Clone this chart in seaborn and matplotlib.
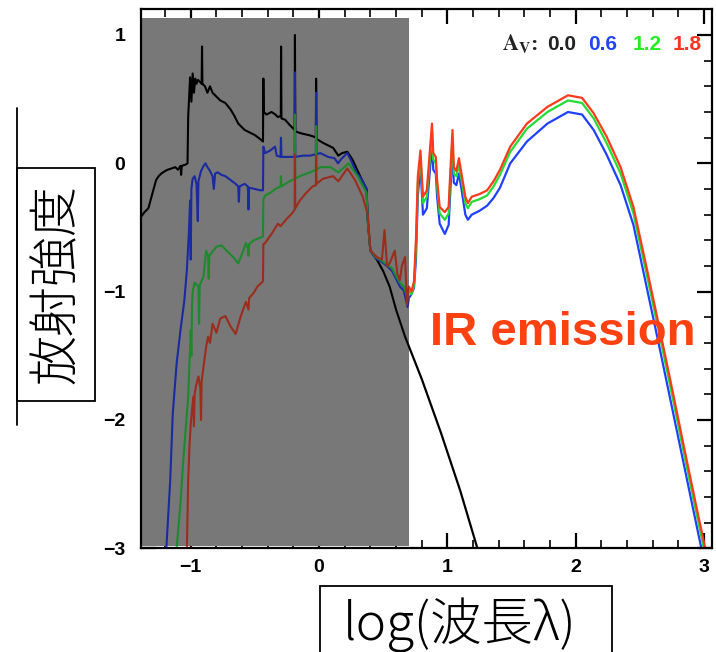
import matplotlib
matplotlib.use("Agg")
import matplotlib.pyplot as plt
import pandas as pd
import seaborn as sns
from matplotlib.patches import Rectangle
from matplotlib.lines import Line2D
from matplotlib.ticker import MultipleLocator

# ---- spectral energy distributions: (log wavelength, log flux) ----
AV00 = [(-1.39, -0.42), (-1.36, -0.38), (-1.33, -0.35), (-1.30, -0.24), (-1.27, -0.13),
        (-1.25, -0.10), (-1.23, -0.08), (-1.20, -0.06), (-1.18, -0.05), (-1.15, -0.04),
        (-1.12, -0.03), (-1.10, -0.05), (-1.08, -0.02), (-1.075, -0.09), (-1.07, -0.02),
        (-1.04, -0.01), (-1.025, 0.00), (-1.02, 0.36), (-1.005, 0.67), (-0.995, 0.48),
        (-0.985, 0.70), (-0.975, 0.55), (-0.965, 0.66), (-0.955, 0.62), (-0.943, 0.65),
        (-0.915, 0.62), (-0.912, 0.91), (-0.909, 0.62), (-0.889, 0.60), (-0.87, 0.55),
        (-0.85, 0.60), (-0.83, 0.55), (-0.80, 0.52), (-0.77, 0.49), (-0.73, 0.47),
        (-0.69, 0.42), (-0.66, 0.37), (-0.63, 0.31), (-0.60, 0.28), (-0.58, 0.26),
        (-0.54, 0.24), (-0.50, 0.22), (-0.46, 0.19), (-0.437, 0.17), (-0.434, 0.66),
        (-0.431, 0.40), (-0.41, 0.38), (-0.37, 0.40), (-0.34, 0.38), (-0.32, 0.36),
        (-0.298, 0.37), (-0.296, 0.91), (-0.293, 0.35), (-0.265, 0.34), (-0.23, 0.30),
        (-0.19, 0.26), (-0.188, 1.00), (-0.185, 0.25), (-0.16, 0.24), (-0.125, 0.23),
        (-0.08, 0.22), (-0.047, 0.21), (-0.025, 0.20), (-0.023, 0.66), (-0.020, 0.19),
        (0.03, 0.16), (0.07, 0.14), (0.11, 0.12), (0.15, 0.06), (0.18, 0.08),
        (0.22, 0.09), (0.26, 0.03), (0.32, -0.10), (0.37, -0.20), (0.38, -0.45),
        (0.40, -0.68), (0.45, -0.75), (0.50, -0.84), (0.55, -0.96), (0.60, -1.14),
        (0.67, -1.35), (0.80, -1.68), (0.95, -2.10), (1.10, -2.55), (1.24, -3.02)]

AV06 = [(-1.195, -3.05), (-1.19, -3.0), (-1.16, -2.47), (-1.14, -1.95), (-1.11, -1.56),
        (-1.08, -1.30), (-1.05, -1.07), (-1.03, -0.83), (-1.015, -0.55), (-1.005, -0.29),
        (-1.00, -0.75), (-0.995, -0.20), (-0.985, -0.12), (-0.97, -0.10), (-0.955, -0.16),
        (-0.945, -0.45), (-0.94, -0.14), (-0.92, -0.06), (-0.90, -0.02), (-0.885, 0.00),
        (-0.87, -0.03), (-0.855, -0.05), (-0.83, -0.10), (-0.82, -0.20), (-0.81, -0.08),
        (-0.79, -0.07), (-0.76, -0.09), (-0.73, -0.10), (-0.69, -0.13), (-0.65, -0.16),
        (-0.63, -0.18), (-0.625, -0.30), (-0.62, -0.18), (-0.58, -0.16), (-0.555, -0.18),
        (-0.55, -0.36), (-0.545, -0.19), (-0.50, -0.20), (-0.46, -0.21), (-0.437, -0.21),
        (-0.434, 0.13), (-0.42, 0.08), (-0.38, 0.10), (-0.343, 0.13), (-0.33, 0.06),
        (-0.30, 0.05), (-0.297, 0.20), (-0.293, 0.05), (-0.25, 0.05), (-0.19, 0.05),
        (-0.188, 0.71), (-0.185, 0.05), (-0.125, 0.06), (-0.07, 0.06), (-0.025, 0.07),
        (-0.023, 0.55), (-0.020, 0.07), (0.01, 0.08), (0.07, 0.05), (0.12, 0.04),
        (0.148, 0.00), (0.17, 0.03), (0.22, 0.08), (0.25, 0.02), (0.29, -0.07),
        (0.33, -0.12), (0.37, -0.20), (0.38, -0.45), (0.40, -0.68), (0.44, -0.74),
        (0.49, -0.77), (0.53, -0.80), (0.57, -0.84), (0.60, -0.90), (0.63, -0.96),
        (0.66, -0.99), (0.69, -1.12), (0.70, -1.05), (0.72, -1.02), (0.74, -0.97),
        (0.755, -0.75), (0.77, -0.25), (0.79, -0.02), (0.81, -0.40), (0.84, -0.35),
        (0.88, 0.15), (0.89, -0.05), (0.91, -0.08), (0.92, -0.26), (0.94, -0.47),
        (0.98, -0.55), (1.01, -0.48), (1.02, -0.28), (1.04, 0.12), (1.05, -0.15),
        (1.07, -0.17), (1.09, -0.08), (1.11, -0.20), (1.14, -0.40), (1.16, -0.44),
        (1.19, -0.40), (1.25, -0.37), (1.31, -0.33), (1.36, -0.27), (1.41, -0.19),
        (1.49, 0.00), (1.62, 0.17), (1.78, 0.31), (1.94, 0.40), (2.05, 0.38),
        (2.14, 0.26), (2.24, 0.07), (2.35, -0.17), (2.45, -0.48), (2.55, -0.95),
        (2.65, -1.42), (2.75, -1.90), (2.85, -2.38), (2.95, -2.86), (2.99, -3.05)]

AV12 = [(-1.115, -3.05), (-1.11, -3.0), (-1.08, -2.65), (-1.06, -2.34), (-1.04, -2.08),
        (-1.02, -1.82), (-1.01, -1.56), (-1.005, -1.45), (-1.00, -1.30), (-0.995, -1.50),
        (-0.99, -1.10), (-0.985, -1.00), (-0.97, -0.93), (-0.94, -0.96), (-0.935, -1.25),
        (-0.93, -0.95), (-0.90, -0.88), (-0.88, -0.68), (-0.865, -0.72), (-0.86, -0.90),
        (-0.855, -0.72), (-0.84, -0.70), (-0.80, -0.65), (-0.76, -0.64), (-0.72, -0.68),
        (-0.67, -0.73), (-0.63, -0.78), (-0.59, -0.68), (-0.57, -0.62), (-0.555, -0.66),
        (-0.55, -0.72), (-0.545, -0.63), (-0.51, -0.60), (-0.46, -0.58), (-0.437, -0.57),
        (-0.434, -0.28), (-0.42, -0.25), (-0.38, -0.23), (-0.34, -0.20), (-0.30, -0.18),
        (-0.297, -0.10), (-0.293, -0.18), (-0.23, -0.14), (-0.19, -0.12), (-0.188, 0.38),
        (-0.185, -0.12), (-0.15, -0.10), (-0.07, -0.07), (-0.025, -0.05), (-0.023, 0.29),
        (-0.020, -0.05), (0.01, -0.03), (0.09, -0.03), (0.15, -0.07), (0.23, 0.00),
        (0.30, -0.10), (0.37, -0.23), (0.38, -0.45), (0.40, -0.68), (0.44, -0.73),
        (0.49, -0.76), (0.53, -0.79), (0.57, -0.82), (0.60, -0.88), (0.63, -0.93),
        (0.66, -0.96), (0.69, -1.05), (0.70, -1.00), (0.72, -1.02), (0.74, -0.95),
        (0.755, -0.66), (0.77, -0.15), (0.79, 0.05), (0.81, -0.31), (0.84, -0.26),
        (0.88, 0.25), (0.89, 0.03), (0.91, 0.00), (0.92, -0.18), (0.94, -0.39),
        (0.98, -0.44), (1.01, -0.39), (1.02, -0.18), (1.04, 0.20), (1.05, -0.08),
        (1.07, -0.10), (1.09, -0.01), (1.11, -0.13), (1.14, -0.31), (1.16, -0.35),
        (1.19, -0.30), (1.25, -0.28), (1.31, -0.25), (1.36, -0.18), (1.41, -0.09),
        (1.49, 0.09), (1.62, 0.27), (1.78, 0.40), (1.94, 0.49), (2.05, 0.47),
        (2.14, 0.35), (2.24, 0.16), (2.35, -0.08), (2.45, -0.39), (2.55, -0.85),
        (2.65, -1.32), (2.75, -1.80), (2.85, -2.29), (2.95, -2.77), (3.01, -3.05)]

AV18 = [(-1.035, -3.05), (-1.03, -3.0), (-1.02, -2.47), (-1.01, -2.21), (-1.00, -2.03),
        (-0.98, -1.82), (-0.975, -2.05), (-0.97, -1.80), (-0.96, -1.74), (-0.94, -1.66),
        (-0.925, -1.75), (-0.92, -2.00), (-0.915, -1.70), (-0.90, -1.58), (-0.88, -1.43),
        (-0.865, -1.35), (-0.85, -1.40), (-0.83, -1.25), (-0.80, -1.32), (-0.77, -1.21),
        (-0.73, -1.19), (-0.69, -1.27), (-0.65, -1.33), (-0.61, -1.19), (-0.57, -1.08),
        (-0.55, -1.14), (-0.545, -1.05), (-0.51, -1.01), (-0.48, -0.96), (-0.437, -0.92),
        (-0.434, -0.63), (-0.42, -0.62), (-0.37, -0.55), (-0.32, -0.47), (-0.30, -0.49),
        (-0.25, -0.43), (-0.21, -0.39), (-0.19, -0.36), (-0.188, 0.07), (-0.185, -0.35),
        (-0.15, -0.29), (-0.10, -0.23), (-0.05, -0.18), (-0.025, -0.17), (-0.023, 0.06),
        (-0.020, -0.16), (0.03, -0.12), (0.11, -0.10), (0.15, -0.14), (0.22, -0.04),
        (0.28, -0.13), (0.34, -0.26), (0.38, -0.40), (0.40, -0.68), (0.45, -0.73),
        (0.49, -0.75), (0.51, -0.52), (0.53, -0.80), (0.55, -0.78), (0.59, -0.68),
        (0.61, -0.86), (0.63, -0.91), (0.645, -0.80), (0.67, -0.73), (0.685, -1.10),
        (0.70, -0.96), (0.72, -1.00), (0.74, -0.92), (0.755, -0.60), (0.77, -0.10),
        (0.79, 0.10), (0.81, -0.26), (0.84, -0.21), (0.88, 0.31), (0.89, 0.08),
        (0.91, 0.05), (0.92, -0.13), (0.94, -0.34), (0.98, -0.38), (1.01, -0.34),
        (1.02, -0.13), (1.04, 0.26), (1.05, -0.03), (1.07, -0.06), (1.09, 0.04),
        (1.11, -0.08), (1.14, -0.26), (1.16, -0.31), (1.19, -0.26), (1.25, -0.24),
        (1.31, -0.21), (1.36, -0.14), (1.41, -0.05), (1.49, 0.13), (1.62, 0.31),
        (1.78, 0.44), (1.94, 0.53), (2.05, 0.51), (2.14, 0.39), (2.24, 0.21),
        (2.35, -0.03), (2.45, -0.34), (2.55, -0.80), (2.65, -1.27), (2.75, -1.75),
        (2.85, -2.24), (2.95, -2.72), (3.02, -3.05)]

AV_LABELS = ["0.0", "0.6", "1.2", "1.8"]
SERIES = [AV00, AV06, AV12, AV18]
BRIGHT = ["#000000", "#2040ff", "#22dd33", "#ff3a1c"]
DARK = ["#000000", "#1a2aa0", "#1c8a2c", "#9c2c1c"]

# stellar (UV-optical-NIR) band, drawn as a grey panel
SHADE_X = (-1.39, 0.70)
SHADE_Y = (-2.985, 1.13)

sns.set_theme(style="white")
plt.rcParams["font.family"] = ["Liberation Sans", "DejaVu Sans"]
plt.rcParams["mathtext.fontset"] = "stix"
plt.rcParams["axes.unicode_minus"] = True

fig = plt.figure(figsize=(7.16, 6.52), dpi=100)
ax = fig.add_axes([0.1965, 0.159, 0.7975, 0.8267])
ax.set_xlim(-1.39, 3.06)
ax.set_ylim(-3.0, 1.2)

shade = Rectangle((SHADE_X[0], SHADE_Y[0]), SHADE_X[1] - SHADE_X[0],
                  SHADE_Y[1] - SHADE_Y[0], facecolor="#787878",
                  edgecolor="none", zorder=2)
ax.add_patch(shade)

for i, (pts, cb, cd) in enumerate(zip(SERIES, BRIGHT, DARK)):
    df = pd.DataFrame(pts, columns=["loglam", "logflux"])
    sns.lineplot(data=df, x="loglam", y="logflux", sort=False, estimator=None,
                 color=cb, lw=1.6, ax=ax, zorder=1 + 0.01 * i, legend=False)
    sns.lineplot(data=df, x="loglam", y="logflux", sort=False, estimator=None,
                 color=cd, lw=1.5, ax=ax, zorder=3 + 0.01 * i, legend=False)
    ax.lines[-1].set_clip_path(shade)

ax.set_xlabel("")
ax.set_ylabel("")

# frame and ticks
for sp in ax.spines.values():
    sp.set_color("black")
    sp.set_linewidth(1.6)
    sp.set_zorder(5)
ax.xaxis.set_major_locator(MultipleLocator(1))
ax.xaxis.set_minor_locator(MultipleLocator(0.2))
ax.yaxis.set_major_locator(MultipleLocator(1))
ax.yaxis.set_minor_locator(MultipleLocator(0.2))
ax.tick_params(which="both", direction="in", top=True, right=True,
               bottom=True, left=True, colors="black")
ax.tick_params(which="major", length=10.5, width=1.6)
ax.tick_params(which="minor", length=6, width=1.2)
ax.tick_params(axis="y", which="major", pad=11, labelsize=14)
ax.tick_params(axis="x", which="major", pad=8, labelsize=14)
for lab in ax.get_xticklabels() + ax.get_yticklabels():
    lab.set_fontweight("bold")

# extinction key
ax.text(0.633, 0.925, r"$\mathbf{A}_{\mathbf{V}}$:", transform=ax.transAxes,
        fontsize=16, fontweight="bold", family="Liberation Serif",
        va="baseline", ha="left", color="#222222")
key_x = [0.711, 0.783, 0.861, 0.932]
for kx, lab, col in zip(key_x, AV_LABELS, ["#222222", "#2244ff", "#22ee22", "#ff3322"]):
    ax.text(kx, 0.925, lab, transform=ax.transAxes, fontsize=15,
            fontweight="bold", color=col, va="baseline", ha="left")

ax.text(0.507, 0.377, "IR emission", transform=ax.transAxes, fontsize=34,
        fontweight="bold", color="#ff4010", va="baseline", ha="left", zorder=6)

# boxed axis titles
W, H = 716.0, 652.0
fig.add_artist(Line2D([17 / W, 17 / W], [1 - 425 / H, 1 - 108 / H],
                      color="black", lw=1.3))
fig.add_artist(Rectangle((17 / W, 1 - 401 / H), 78 / W, 233 / H,
                         transform=fig.transFigure, facecolor="white",
                         edgecolor="black", lw=1.3))
fig.text(57 / W, 1 - 284 / H, "放射強度", rotation=90, ha="center", va="center",
         fontsize=36, fontweight="light",
         family=["Noto Sans CJK JP", "DejaVu Sans"], color="black")

fig.add_artist(Rectangle((320 / W, -0.05), 292 / W, 0.05 + (H - 586) / H,
                         transform=fig.transFigure, facecolor="white",
                         edgecolor="black", lw=1.3))
fig.text(460 / W, 1 - 625 / H, "log(波長λ)", ha="center", va="center",
         fontsize=37, fontweight="light",
         family=["Noto Sans CJK JP", "DejaVu Sans"], color="black")

fig.savefig("out.png", dpi=100)
